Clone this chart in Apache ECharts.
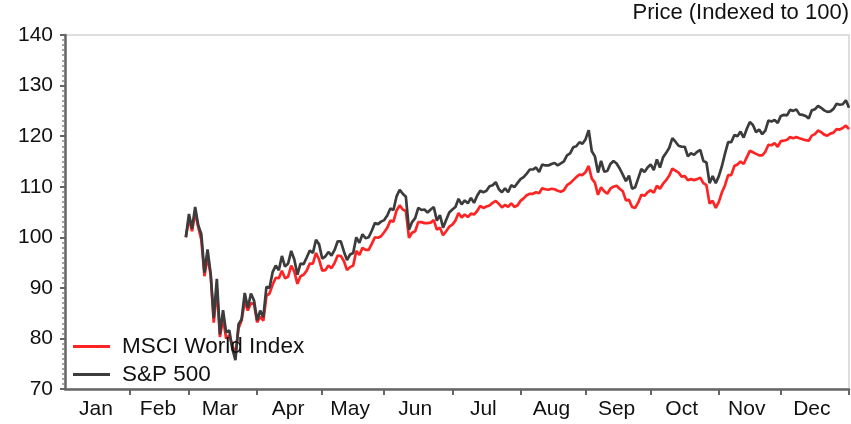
<!DOCTYPE html>
<html>
<head>
<meta charset="utf-8">
<script src="https://cdn.jsdelivr.net/npm/echarts@6/dist/echarts.min.js"></script>
<style>
  html, body { margin: 0; padding: 0; background: #fff; }
  #chart { width: 851px; height: 424px; }
</style>
</head>
<body>
<div id="chart"></div>
<script>
// market holidays, used to build the trading-day axis
const holidays = ['2020-01-01', '2020-01-20', '2020-02-17', '2020-04-10', '2020-05-25',
  '2020-07-03', '2020-09-07', '2020-11-26', '2020-12-25', '2021-01-01']
const axisFrom = '2020-01-01'
const axisTo = '2021-01-04'
const seriesStart = '2020-02-28'
const monthNames = ['Jan', 'Feb', 'Mar', 'Apr', 'May', 'Jun', 'Jul', 'Aug', 'Sep', 'Oct', 'Nov', 'Dec']

// indexed prices, one per trading day from seriesStart
const sp500 = [
  100.0,
  104.6, 101.7, 106.0, 102.4, 100.6, 93.0, 97.6, 92.8, 84.0, 91.8, 80.8, 85.6, 81.2, 81.6, 78.0, 75.7, 82.8, 83.8, 89.0, 86.0, 88.9, 87.5,
  83.6, 85.5, 84.2, 90.2, 90.0, 93.1, 94.4, 93.5, 96.3, 94.2, 94.8, 97.3, 95.6, 92.6, 94.8, 94.7, 96.0, 97.4, 96.9, 99.5, 98.6,
  95.8, 96.2, 97.1, 96.4, 97.5, 99.2, 99.2, 97.2, 95.5, 96.6, 96.9, 100.0, 98.9, 100.6, 99.8, 100.0, 101.3, 102.8, 102.6, 103.1,
  103.4, 104.3, 105.7, 105.4, 108.1, 109.4, 108.6, 108.0, 101.5, 103.0, 103.8, 105.8, 105.4, 105.5, 104.9, 105.5, 106.0, 103.3, 104.4, 101.9, 103.4, 104.9,
  105.5, 106.0, 107.6, 106.5, 107.3, 106.7, 107.8, 106.8, 108.2, 109.2, 108.9, 109.2, 110.1, 110.3, 110.9, 109.5, 108.9, 109.7, 108.9, 110.3, 109.9, 110.7,
  111.5, 111.9, 112.6, 113.4, 113.4, 113.8, 112.9, 114.4, 114.2, 114.2, 114.5, 114.7, 114.2, 114.6, 115.0, 116.2, 116.6, 117.8, 118.0, 118.8, 118.5,
  119.4, 121.2, 117.0, 116.0, 112.8, 115.1, 113.0, 113.1, 114.5, 115.1, 114.6, 113.6, 112.4, 111.1, 112.2, 109.6, 109.9, 111.7, 113.5, 112.9, 113.8,
  114.4, 113.3, 115.4, 113.8, 115.8, 116.7, 117.7, 119.6, 118.9, 118.1, 117.9, 117.9, 116.0, 116.6, 116.3, 116.9, 117.3, 115.1, 114.8, 110.7, 112.1, 110.7,
  112.1, 114.1, 116.6, 118.8, 118.8, 120.2, 120.0, 120.9, 119.7, 121.4, 122.8, 122.2, 120.8, 121.3, 120.4, 121.1, 123.1, 122.9, 123.2, 122.6,
  124.0, 124.2, 124.1, 125.2, 125.0, 125.3, 124.3, 124.2, 124.0, 123.5, 125.1, 125.3, 126.0, 125.6, 125.1, 124.8, 124.9, 125.4, 126.4, 126.2, 126.3, 127.1,
  125.6
]
const msciWorld = [
  100.0,
  103.6, 101.2, 104.9, 102.0, 99.5, 92.3, 96.2, 92.6, 83.1, 89.9, 80.3, 84.0, 80.0, 80.6, 78.6, 76.8, 82.0, 83.6, 87.4, 85.5, 87.0, 86.8,
  83.2, 84.3, 83.5, 88.4, 88.9, 90.6, 92.0, 91.9, 93.4, 91.9, 92.2, 94.4, 93.2, 90.8, 92.3, 92.6, 93.4, 94.8, 94.8, 96.9, 95.6,
  93.4, 93.5, 94.4, 93.9, 94.9, 96.4, 96.3, 95.3, 93.5, 94.1, 94.4, 97.3, 96.5, 97.9, 97.5, 97.5, 98.7, 100.0, 99.9, 100.2,
  101.0, 101.9, 103.3, 103.1, 105.3, 106.3, 105.5, 105.2, 99.9, 100.9, 101.2, 103.0, 103.0, 102.8, 102.8, 102.9, 103.4, 101.5, 101.9, 100.4, 101.2, 102.1,
  102.5, 103.3, 104.8, 103.9, 104.5, 104.0, 104.7, 104.5, 105.2, 106.2, 105.8, 106.1, 106.3, 106.8, 107.2, 106.6, 105.9, 106.4, 106.0, 106.7, 106.0, 106.3,
  107.2, 107.7, 108.3, 108.6, 108.6, 108.9, 108.7, 109.7, 109.5, 109.4, 109.6, 109.5, 109.2, 109.0, 109.3, 110.3, 110.7, 111.3, 111.9, 112.4, 112.3,
  112.9, 114.1, 111.6, 110.8, 108.4, 109.9, 109.1, 108.6, 109.6, 110.0, 110.2, 109.6, 109.1, 107.3, 107.4, 106.0, 105.8, 106.9, 108.4, 108.2, 108.9,
  109.3, 108.8, 110.2, 109.6, 110.6, 111.3, 112.2, 113.6, 113.2, 112.8, 112.0, 112.1, 111.3, 111.5, 111.3, 111.5, 111.8, 110.7, 110.3, 106.7, 107.2, 105.8,
  107.0, 108.9, 110.3, 112.3, 112.3, 114.1, 114.4, 115.0, 114.5, 115.8, 117.1, 116.8, 116.5, 116.2, 116.2, 116.9, 118.3, 118.2, 118.6, 117.9,
  119.0, 119.1, 119.3, 119.8, 119.6, 119.8, 119.6, 119.4, 119.2, 119.1, 120.1, 120.4, 121.1, 120.8, 120.3, 120.1, 120.5, 120.7, 121.4, 121.3, 121.6, 122.1,
  121.4
]

const font = 'Liberation Sans, Arial, sans-serif'

function tradingDays(from, to) {
  const out = []
  const d = new Date(from + 'T00:00:00Z')
  const end = new Date(to + 'T00:00:00Z')
  while (d <= end) {
    const s = d.toISOString().slice(0, 10)
    const wd = d.getUTCDay()
    if (wd !== 0 && wd !== 6 && holidays.indexOf(s) < 0) out.push(s)
    d.setUTCDate(d.getUTCDate() + 1)
  }
  return out
}

const days = tradingDays(axisFrom, axisTo)
const startIdx = days.indexOf(seriesStart)

// first trading day of each month -> tick, middle day of each 2020 month -> label
const tickIdx = new Set()
const labelIdx = new Set()
const firstOf = {}
const lastOf = {}
days.forEach((d, i) => {
  const key = d.slice(0, 7)
  if (firstOf[key] === undefined) firstOf[key] = i
  lastOf[key] = i
  if (i > 0 && days[i - 1].slice(0, 7) !== key) tickIdx.add(i)
})
Object.keys(firstOf).forEach(k => {
  if (k.startsWith('2020')) labelIdx.add(Math.floor((firstOf[k] + lastOf[k]) / 2))
})

function toPairs(values) {
  return values.map((v, i) => [days[startIdx + i], v])
}

const chart = echarts.init(document.getElementById('chart'))
chart.setOption({
  animation: false,
  backgroundColor: '#fff',
  textStyle: { fontFamily: font },
  title: {
    text: 'Price (Indexed to 100)',
    right: 2,
    top: 2,
    padding: 0,
    textStyle: { fontFamily: font, fontSize: 22, fontWeight: 'normal', color: '#111' }
  },
  legend: {
    orient: 'vertical',
    left: 73,
    top: 335,
    padding: 0,
    icon: 'rect',
    itemWidth: 37,
    itemHeight: 3,
    itemGap: 5,
    textStyle: { fontFamily: font, fontSize: 22.5, color: '#111', lineHeight: 21, padding: [0, 0, 0, 7] },
    data: ['MSCI World Index', 'S&P 500']
  },
  grid: {
    left: 65,
    right: 2,
    top: 35,
    bottom: 35,
    show: true,
    borderColor: '#d4d4d4',
    borderWidth: 1.5
  },
  xAxis: {
    type: 'category',
    data: days,
    boundaryGap: false,
    axisLine: { lineStyle: { color: '#666', width: 2.5 } },
    axisTick: {
      interval: (i) => tickIdx.has(i),
      length: 6,
      lineStyle: { color: '#666', width: 2 }
    },
    axisLabel: {
      interval: (i) => labelIdx.has(i),
      formatter: (v) => monthNames[Number(v.slice(5, 7)) - 1],
      fontFamily: font,
      fontSize: 21,
      color: '#111',
      margin: 10
    },
    splitLine: { show: false }
  },
  yAxis: {
    type: 'value',
    min: 70,
    max: 140,
    interval: 10,
    axisLine: { show: true, lineStyle: { color: '#666', width: 2.5 } },
    axisTick: { show: true, length: 5, lineStyle: { color: '#666', width: 2 } },
    minorTick: { show: true, splitNumber: 10, length: 3, lineStyle: { color: '#888', width: 1.5 } },
    axisLabel: { fontFamily: font, fontSize: 21, color: '#111', margin: 12 },
    splitLine: { show: false }
  },
  series: [
    {
      name: 'MSCI World Index',
      type: 'line',
      data: toPairs(msciWorld),
      showSymbol: false,
      lineStyle: { color: '#ff2424', width: 2.7 },
      itemStyle: { color: '#ff2424' }
    },
    {
      name: 'S&P 500',
      type: 'line',
      data: toPairs(sp500),
      showSymbol: false,
      lineStyle: { color: '#3c3c3c', width: 2.7 },
      itemStyle: { color: '#3c3c3c' }
    }
  ]
})
</script>
</body>
</html>
